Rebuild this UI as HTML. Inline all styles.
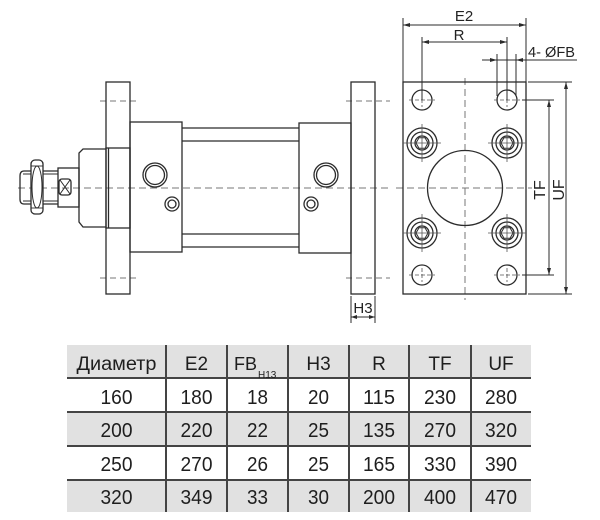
<!DOCTYPE html>
<html><head><meta charset="utf-8">
<style>
html,body{margin:0;padding:0;background:#fff;}
svg{display:block;}
</style></head>
<body>
<svg width="600" height="520" viewBox="0 0 600 520" xmlns="http://www.w3.org/2000/svg" font-family="'Liberation Sans', sans-serif">
<rect width="600" height="520" fill="#fff"/>
<g fill="none" stroke="#2b2b2b" stroke-width="1.3">
  <!-- center dashed lines -->
  <line x1="18" y1="188" x2="390" y2="188" stroke="#777" stroke-width="1" stroke-dasharray="7,4"/>
  <line x1="396" y1="188" x2="532" y2="188" stroke="#777" stroke-width="1" stroke-dasharray="7,4"/>
  <line x1="465" y1="78" x2="465" y2="300" stroke="#777" stroke-width="1" stroke-dasharray="7,4"/>
  <line x1="100" y1="101" x2="138" y2="101" stroke="#777" stroke-width="1" stroke-dasharray="6,4"/>
  <line x1="100" y1="278" x2="138" y2="278" stroke="#777" stroke-width="1" stroke-dasharray="6,4"/>
  <line x1="346" y1="101" x2="390" y2="101" stroke="#777" stroke-width="1" stroke-dasharray="6,4"/>
  <line x1="346" y1="278" x2="390" y2="278" stroke="#777" stroke-width="1" stroke-dasharray="6,4"/>

  <!-- front flange -->
  <rect x="106" y="82" width="24" height="212"/>
  <rect x="106" y="148" width="24" height="80"/>
  <line x1="108.5" y1="148" x2="108.5" y2="228"/>
  <!-- boss -->
  <path d="M106 149 H83 L79 153 V222 L83 227 H106"/>
  <!-- rod -->
  <rect x="58" y="168" width="21" height="39"/>
  <rect x="59" y="179" width="12" height="16" rx="3"/>
  <path d="M60 180 L70 194 M70 180 L60 194" stroke-width="1"/>
  <!-- stud -->
  <path d="M58 171 H24 Q20 171 20 176 V199 Q20 204 24 204 H58"/>
  <path d="M23 174 H31 M23 201 H31 M43 174 H58 M43 201 H58" stroke-width="0.9"/>
  <!-- nut -->
  <rect x="31" y="160" width="12" height="54" rx="4" fill="#fff"/>
  <ellipse cx="37" cy="187" rx="5" ry="21" stroke-width="1"/>
  <line x1="31" y1="166" x2="43" y2="166" stroke-width="0.9"/>
  <line x1="31" y1="208" x2="43" y2="208" stroke-width="0.9"/>

  <!-- front head -->
  <rect x="130" y="122" width="52" height="130"/>
  <!-- tie rods -->
  <line x1="182" y1="128" x2="299" y2="128"/>
  <line x1="182" y1="141" x2="299" y2="141"/>
  <line x1="182" y1="234" x2="299" y2="234"/>
  <line x1="182" y1="247" x2="299" y2="247"/>
  <!-- rear head -->
  <rect x="299" y="123" width="52" height="130"/>
  <!-- rear flange -->
  <rect x="351" y="82" width="24" height="212"/>
  <!-- ports -->
  <circle cx="155" cy="175" r="12"/>
  <circle cx="155" cy="175" r="9.5"/>
  <circle cx="172" cy="204" r="7"/>
  <circle cx="172" cy="204" r="4"/>
  <circle cx="326" cy="175" r="12"/>
  <circle cx="326" cy="175" r="9.5"/>
  <circle cx="311" cy="204" r="7"/>
  <circle cx="311" cy="204" r="4"/>

  <!-- H3 dimension -->
  <line x1="351" y1="296" x2="351" y2="323" stroke-width="1"/>
  <line x1="375" y1="296" x2="375" y2="323" stroke-width="1"/>
  <line x1="351" y1="317" x2="375" y2="317" stroke-width="1"/>

  <!-- right view plate -->
  <rect x="403" y="82" width="123" height="212"/>
  <circle cx="465" cy="188" r="37.5"/>
  <!-- plain holes -->
  <circle cx="422" cy="100" r="10"/>
  <circle cx="507" cy="100" r="10"/>
  <circle cx="422" cy="275" r="10"/>
  <circle cx="507" cy="275" r="10"/>
  <!-- counterbored holes -->
  <g>
    <circle cx="422" cy="143" r="15"/><circle cx="422" cy="143" r="11"/><circle cx="422" cy="143" r="7"/>
    <polygon points="428,143 425,148.2 419,148.2 416,143 419,137.8 425,137.8" stroke-width="1"/>
    <circle cx="507" cy="143" r="15"/><circle cx="507" cy="143" r="11"/><circle cx="507" cy="143" r="7"/>
    <polygon points="513,143 510,148.2 504,148.2 501,143 504,137.8 510,137.8" stroke-width="1"/>
    <circle cx="422" cy="233" r="15"/><circle cx="422" cy="233" r="11"/><circle cx="422" cy="233" r="7"/>
    <polygon points="428,233 425,238.2 419,238.2 416,233 419,227.8 425,227.8" stroke-width="1"/>
    <circle cx="507" cy="233" r="15"/><circle cx="507" cy="233" r="11"/><circle cx="507" cy="233" r="7"/>
    <polygon points="513,233 510,238.2 504,238.2 501,233 504,227.8 510,227.8" stroke-width="1"/>
  </g>
  <!-- crosshairs -->
  <g stroke="#555" stroke-width="0.8">
    <path d="M403 143 H441 M422 124 V162 M488 143 H526 M507 124 V162"/>
    <path d="M403 233 H441 M422 214 V252 M488 233 H526 M507 214 V252"/>
    <path d="M409 100 H435 M422 93 V107 M494 100 H520 M507 93 V107" stroke-dasharray="4,2"/>
    <path d="M409 275 H435 M422 268 V282 M494 275 H520 M507 268 V282" stroke-dasharray="4,2"/>
  </g>

  <!-- dimensions right view -->
  <g stroke-width="1">
    <line x1="403" y1="18" x2="403" y2="82"/>
    <line x1="526" y1="18" x2="526" y2="82"/>
    <line x1="403" y1="25" x2="526" y2="25"/>
    <line x1="422" y1="37" x2="422" y2="100"/>
    <line x1="507" y1="37" x2="507" y2="100"/>
    <line x1="422" y1="42" x2="507" y2="42"/>
    <line x1="497" y1="54" x2="497" y2="96"/>
    <line x1="516" y1="54" x2="516" y2="96"/>
    <line x1="482" y1="60" x2="577" y2="60"/>
    <line x1="522" y1="100" x2="554" y2="100"/>
    <line x1="522" y1="275" x2="554" y2="275"/>
    <line x1="549" y1="100" x2="549" y2="275"/>
    <line x1="528" y1="82" x2="572" y2="82"/>
    <line x1="528" y1="294" x2="572" y2="294"/>
    <line x1="566" y1="82" x2="566" y2="294"/>
  </g>
</g>
<!-- arrowheads -->
<g fill="#2b2b2b">
  <polygon points="403,25 410,23 410,27"/>
  <polygon points="526,25 519,23 519,27"/>
  <polygon points="422,42 429,40 429,44"/>
  <polygon points="507,42 500,40 500,44"/>
  <polygon points="497,60 490,58 490,62"/>
  <polygon points="516,60 523,58 523,62"/>
  <polygon points="549,100 547,107 551,107"/>
  <polygon points="549,275 547,268 551,268"/>
  <polygon points="566,82 564,89 568,89"/>
  <polygon points="566,294 564,287 568,287"/>
  <polygon points="351,317 357,315 357,319"/>
  <polygon points="375,317 369,315 369,319"/>
</g>
<!-- drawing labels -->
<g fill="#222" font-size="15">
  <text x="464" y="21" text-anchor="middle">E2</text>
  <text x="459" y="40" text-anchor="middle">R</text>
  <text x="528" y="57" textLength="47" lengthAdjust="spacingAndGlyphs">4- ØFB</text>
  <text x="363" y="313" text-anchor="middle">H3</text>
  <text transform="translate(545,190) rotate(-90)" text-anchor="middle" font-size="16">TF</text>
  <text transform="translate(564,190) rotate(-90)" text-anchor="middle" font-size="16">UF</text>
</g>

<!-- table -->
<g>
  <rect x="67" y="345" width="464" height="33" fill="#e1e1e1"/>
  <rect x="67" y="412" width="464" height="34" fill="#e1e1e1"/>
  <rect x="67" y="480" width="464" height="32" fill="#e1e1e1"/>
  <g stroke="#444" stroke-width="2">
    <line x1="67" y1="378" x2="531" y2="378"/>
    <line x1="67" y1="412" x2="531" y2="412"/>
    <line x1="67" y1="446" x2="531" y2="446"/>
    <line x1="67" y1="480" x2="531" y2="480"/>
    <line x1="166" y1="345" x2="166" y2="512"/>
    <line x1="227" y1="345" x2="227" y2="512"/>
    <line x1="288" y1="345" x2="288" y2="512"/>
    <line x1="349" y1="345" x2="349" y2="512"/>
    <line x1="409" y1="345" x2="409" y2="512"/>
    <line x1="471" y1="345" x2="471" y2="512"/>
  </g>
  <g fill="#1e1e1e" font-size="19" text-anchor="middle">
    <text x="116.5" y="370" textLength="80" lengthAdjust="spacingAndGlyphs">Диаметр</text>
    <text x="196.5" y="370">E2</text>
    <text x="257" y="370" text-anchor="end" font-size="18">FB</text>
    <text x="258" y="378" text-anchor="start" font-size="10">H13</text>
    <text x="318.5" y="370">H3</text>
    <text x="379" y="370">R</text>
    <text x="440" y="370">TF</text>
    <text x="501" y="370">UF</text>
  </g>
  <g fill="#1e1e1e" font-size="20.5" text-anchor="middle">
    <text x="116.5" y="404" textLength="32" lengthAdjust="spacingAndGlyphs">160</text>
    <text x="196.5" y="404" textLength="32" lengthAdjust="spacingAndGlyphs">180</text>
    <text x="257.5" y="404" textLength="21" lengthAdjust="spacingAndGlyphs">18</text>
    <text x="318.5" y="404" textLength="21" lengthAdjust="spacingAndGlyphs">20</text>
    <text x="379" y="404" textLength="32" lengthAdjust="spacingAndGlyphs">115</text>
    <text x="440" y="404" textLength="32" lengthAdjust="spacingAndGlyphs">230</text>
    <text x="501" y="404" textLength="32" lengthAdjust="spacingAndGlyphs">280</text>

    <text x="116.5" y="437" textLength="32" lengthAdjust="spacingAndGlyphs">200</text>
    <text x="196.5" y="437" textLength="32" lengthAdjust="spacingAndGlyphs">220</text>
    <text x="257.5" y="437" textLength="21" lengthAdjust="spacingAndGlyphs">22</text>
    <text x="318.5" y="437" textLength="21" lengthAdjust="spacingAndGlyphs">25</text>
    <text x="379" y="437" textLength="32" lengthAdjust="spacingAndGlyphs">135</text>
    <text x="440" y="437" textLength="32" lengthAdjust="spacingAndGlyphs">270</text>
    <text x="501" y="437" textLength="32" lengthAdjust="spacingAndGlyphs">320</text>

    <text x="116.5" y="471" textLength="32" lengthAdjust="spacingAndGlyphs">250</text>
    <text x="196.5" y="471" textLength="32" lengthAdjust="spacingAndGlyphs">270</text>
    <text x="257.5" y="471" textLength="21" lengthAdjust="spacingAndGlyphs">26</text>
    <text x="318.5" y="471" textLength="21" lengthAdjust="spacingAndGlyphs">25</text>
    <text x="379" y="471" textLength="32" lengthAdjust="spacingAndGlyphs">165</text>
    <text x="440" y="471" textLength="32" lengthAdjust="spacingAndGlyphs">330</text>
    <text x="501" y="471" textLength="32" lengthAdjust="spacingAndGlyphs">390</text>

    <text x="116.5" y="504" textLength="32" lengthAdjust="spacingAndGlyphs">320</text>
    <text x="196.5" y="504" textLength="32" lengthAdjust="spacingAndGlyphs">349</text>
    <text x="257.5" y="504" textLength="21" lengthAdjust="spacingAndGlyphs">33</text>
    <text x="318.5" y="504" textLength="21" lengthAdjust="spacingAndGlyphs">30</text>
    <text x="379" y="504" textLength="32" lengthAdjust="spacingAndGlyphs">200</text>
    <text x="440" y="504" textLength="32" lengthAdjust="spacingAndGlyphs">400</text>
    <text x="501" y="504" textLength="32" lengthAdjust="spacingAndGlyphs">470</text>
  </g>
</g>
</svg>
</body></html>
